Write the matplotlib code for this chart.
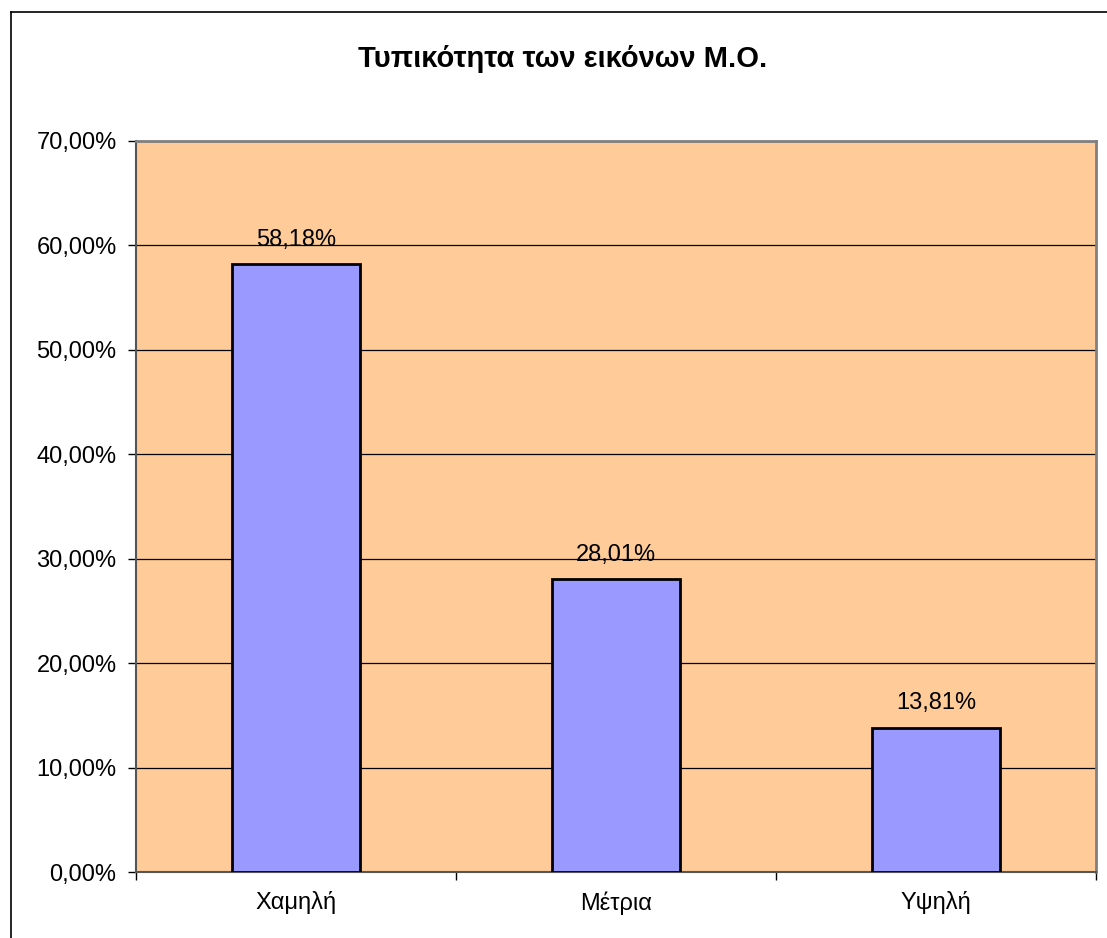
import matplotlib
matplotlib.use("Agg")
import matplotlib.pyplot as plt
from matplotlib.lines import Line2D
from matplotlib.ticker import FuncFormatter, MultipleLocator

plt.rcParams['font.family'] = ['Liberation Sans', 'DejaVu Sans']

categories = ["Χαμηλή", "Μέτρια", "Υψηλή"]
values = [58.18, 28.01, 13.81]
title = "Τυπικότητα των εικόνων Μ.Ο."

W, H = 1107, 938
fig = plt.figure(figsize=(W / 100, H / 100), dpi=100)
fig.patch.set_facecolor("white")

# chart-area frame (left and top edges)
fig.add_artist(Line2D([11 / W, 11 / W], [0, 1 - 12 / H], color="black", lw=1.2))
fig.add_artist(Line2D([11 / W, 1], [1 - 12 / H, 1 - 12 / H], color="black", lw=1.2))

left, right, top, bottom = 136, 1096, 141, 872
ax = fig.add_axes([left / W, 1 - bottom / H, (right - left) / W, (bottom - top) / H])
ax.set_facecolor("#FFCC99")

x = list(range(len(categories)))
ax.bar(x, values, width=0.4, color="#9999FF", edgecolor="black", linewidth=2, zorder=3)

ax.set_xlim(-0.5, len(categories) - 0.5)
ax.set_ylim(0, 70)
ax.yaxis.set_major_locator(MultipleLocator(10))
ax.yaxis.set_major_formatter(FuncFormatter(lambda v, p: f"{v:.2f}".replace(".", ",") + "%"))
ax.grid(axis="y", color="black", linewidth=0.9, zorder=1)

ax.set_xticks(x)
ax.set_xticklabels(categories)
ax.set_xticks([i - 0.5 for i in range(len(categories) + 1)], minor=True)
ax.tick_params(axis="x", which="major", length=0, pad=14, labelsize=17)
ax.tick_params(axis="x", which="minor", length=6, width=1, color="black", direction="out")
ax.tick_params(axis="y", length=6, width=1, color="black", direction="out", pad=8, labelsize=17)

for s in ["top", "right"]:
    ax.spines[s].set_color("#808080")
    ax.spines[s].set_linewidth(2)
ax.spines["left"].set_color("#555555")
ax.spines["left"].set_linewidth(1.5)
ax.spines["bottom"].set_color("#555555")
ax.spines["bottom"].set_linewidth(1.5)

for xi, v in zip(x, values):
    ax.annotate(f"{v:.2f}".replace(".", ",") + "%", (xi, v), xytext=(0, 10),
                textcoords="offset points", ha="center", va="bottom", fontsize=17, zorder=4)

fig.text((357 + 768) / 2 / W, 1 - 67 / H, title, ha="center", va="baseline",
         fontsize=21, fontweight="bold")

fig.savefig("out.png", dpi=100)
